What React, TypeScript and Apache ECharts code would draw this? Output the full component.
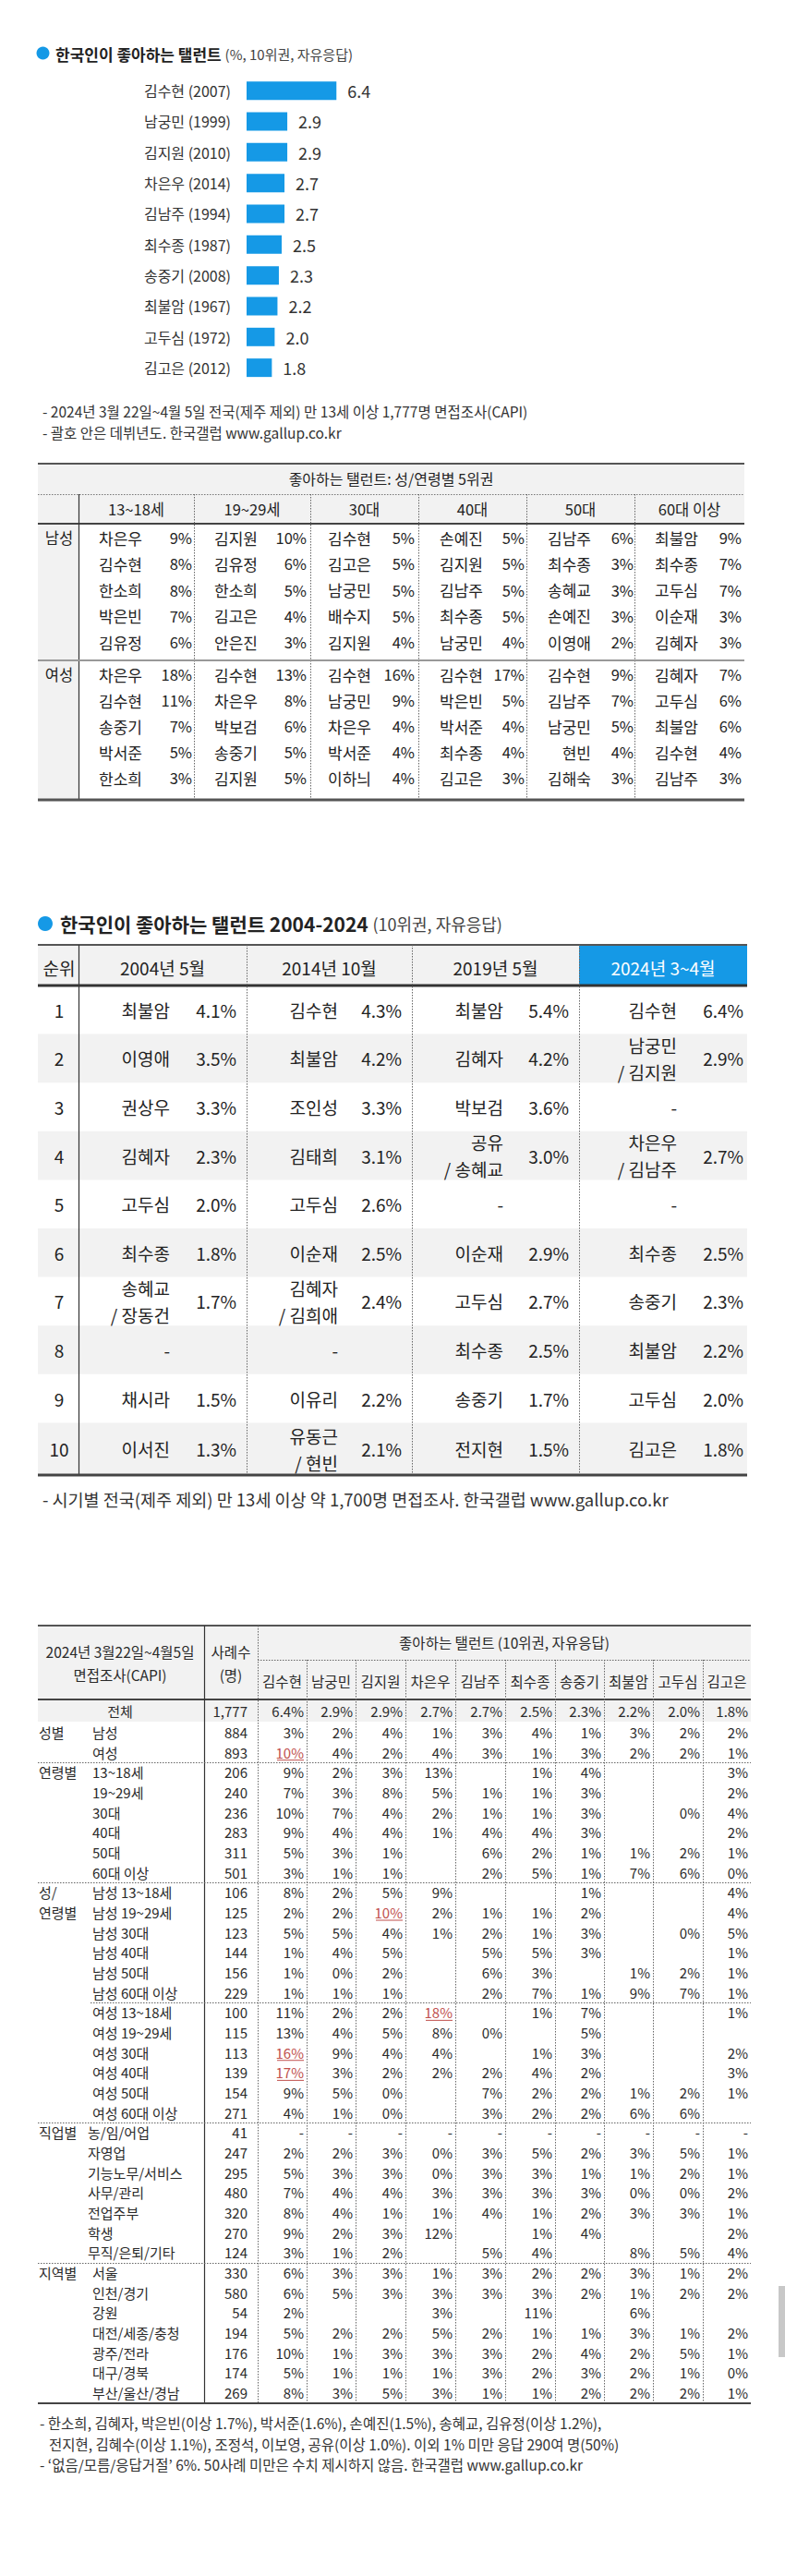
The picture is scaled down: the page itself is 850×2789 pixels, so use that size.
import React, { useEffect, useRef } from 'react';
import * as echarts from 'echarts';

const FONT = '"Noto Sans CJK KR", "Noto Sans", sans-serif';
const BLUE = '#1599e6';
const INK = '#222';
const GRAY_BG = '#f2f2f2';

// ---------- Bar chart data ----------
const barNames = ['김수현 (2007)', '남궁민 (1999)', '김지원 (2010)', '차은우 (2014)', '김남주 (1994)', '최수종 (1987)', '송중기 (2008)', '최불암 (1967)', '고두심 (1972)', '김고은 (2012)'];
const barValues = [6.4, 2.9, 2.9, 2.7, 2.7, 2.5, 2.3, 2.2, 2.0, 1.8];

// ---------- Table 1: gender/age top 5 ----------
const t1Ages = ['13~18세', '19~29세', '30대', '40대', '50대', '60대 이상'];
const t1Male: string[][][] = [
  [['차은우', '9%'], ['김수현', '8%'], ['한소희', '8%'], ['박은빈', '7%'], ['김유정', '6%']],
  [['김지원', '10%'], ['김유정', '6%'], ['한소희', '5%'], ['김고은', '4%'], ['안은진', '3%']],
  [['김수현', '5%'], ['김고은', '5%'], ['남궁민', '5%'], ['배수지', '5%'], ['김지원', '4%']],
  [['손예진', '5%'], ['김지원', '5%'], ['김남주', '5%'], ['최수종', '5%'], ['남궁민', '4%']],
  [['김남주', '6%'], ['최수종', '3%'], ['송혜교', '3%'], ['손예진', '3%'], ['이영애', '2%']],
  [['최불암', '9%'], ['최수종', '7%'], ['고두심', '7%'], ['이순재', '3%'], ['김혜자', '3%']],
];
const t1Female: string[][][] = [
  [['차은우', '18%'], ['김수현', '11%'], ['송중기', '7%'], ['박서준', '5%'], ['한소희', '3%']],
  [['김수현', '13%'], ['차은우', '8%'], ['박보검', '6%'], ['송중기', '5%'], ['김지원', '5%']],
  [['김수현', '16%'], ['남궁민', '9%'], ['차은우', '4%'], ['박서준', '4%'], ['이하늬', '4%']],
  [['김수현', '17%'], ['박은빈', '5%'], ['박서준', '4%'], ['최수종', '4%'], ['김고은', '3%']],
  [['김수현', '9%'], ['김남주', '7%'], ['남궁민', '5%'], ['현빈', '4%'], ['김해숙', '3%']],
  [['김혜자', '7%'], ['고두심', '6%'], ['최불암', '6%'], ['김수현', '4%'], ['김남주', '3%']],
];

// ---------- Table 2: 2004-2024 ----------
const t2Periods = ['2004년 5월', '2014년 10월', '2019년 5월', '2024년 3~4월'];
const t2Ranks = ['1', '2', '3', '4', '5', '6', '7', '8', '9', '10'];
const t2Names = [
  ['최불암', '김수현', '최불암', '김수현'],
  ['이영애', '최불암', '김혜자', '남궁민\n/ 김지원'],
  ['권상우', '조인성', '박보검', '-'],
  ['김혜자', '김태희', '공유\n/ 송혜교', '차은우\n/ 김남주'],
  ['고두심', '고두심', '-', '-'],
  ['최수종', '이순재', '이순재', '최수종'],
  ['송혜교\n/ 장동건', '김혜자\n/ 김희애', '고두심', '송중기'],
  ['-', '-', '최수종', '최불암'],
  ['채시라', '이유리', '송중기', '고두심'],
  ['이서진', '유동근\n/ 현빈', '전지현', '김고은'],
];
const t2Pcts = [
  ['4.1%', '4.3%', '5.4%', '6.4%'],
  ['3.5%', '4.2%', '4.2%', '2.9%'],
  ['3.3%', '3.3%', '3.6%', ''],
  ['2.3%', '3.1%', '3.0%', '2.7%'],
  ['2.0%', '2.6%', '', ''],
  ['1.8%', '2.5%', '2.9%', '2.5%'],
  ['1.7%', '2.4%', '2.7%', '2.3%'],
  ['', '', '2.5%', '2.2%'],
  ['1.5%', '2.2%', '1.7%', '2.0%'],
  ['1.3%', '2.1%', '1.5%', '1.8%'],
];

// ---------- Table 3: detail ----------
const t3Cols = ['김수현', '남궁민', '김지원', '차은우', '김남주', '최수종', '송중기', '최불암', '고두심', '김고은'];
const t3TotalCount = '1,777';
const t3Total = ['6.4%', '2.9%', '2.9%', '2.7%', '2.7%', '2.5%', '2.3%', '2.2%', '2.0%', '1.8%'];
const t3Groups = [
  { row: 0, lines: ['성별'] },
  { row: 2, lines: ['연령별'] },
  { row: 8, lines: ['성/', '연령별'] },
  { row: 20, lines: ['직업별'] },
  { row: 27, lines: ['지역별'] },
];
const t3Labels = ['남성', '여성', '13~18세', '19~29세', '30대', '40대', '50대', '60대 이상',
  '남성 13~18세', '남성 19~29세', '남성 30대', '남성 40대', '남성 50대', '남성 60대 이상',
  '여성 13~18세', '여성 19~29세', '여성 30대', '여성 40대', '여성 50대', '여성 60대 이상',
  '농/임/어업', '자영업', '기능노무/서비스', '사무/관리', '전업주부', '학생', '무직/은퇴/기타',
  '서울', '인천/경기', '강원', '대전/세종/충청', '광주/전라', '대구/경북', '부산/울산/경남'];
const t3Counts = ['884', '893', '206', '240', '236', '283', '311', '501',
  '106', '125', '123', '144', '156', '229',
  '100', '115', '113', '139', '154', '271',
  '41', '247', '295', '480', '320', '270', '124',
  '330', '580', '54', '194', '176', '174', '269'];
const t3Values = [
  ['3%', '2%', '4%', '1%', '3%', '4%', '1%', '3%', '2%', '2%'],
  ['10%', '4%', '2%', '4%', '3%', '1%', '3%', '2%', '2%', '1%'],
  ['9%', '2%', '3%', '13%', '', '1%', '4%', '', '', '3%'],
  ['7%', '3%', '8%', '5%', '1%', '1%', '3%', '', '', '2%'],
  ['10%', '7%', '4%', '2%', '1%', '1%', '3%', '', '0%', '4%'],
  ['9%', '4%', '4%', '1%', '4%', '4%', '3%', '', '', '2%'],
  ['5%', '3%', '1%', '', '6%', '2%', '1%', '1%', '2%', '1%'],
  ['3%', '1%', '1%', '', '2%', '5%', '1%', '7%', '6%', '0%'],
  ['8%', '2%', '5%', '9%', '', '', '1%', '', '', '4%'],
  ['2%', '2%', '10%', '2%', '1%', '1%', '2%', '', '', '4%'],
  ['5%', '5%', '4%', '1%', '2%', '1%', '3%', '', '0%', '5%'],
  ['1%', '4%', '5%', '', '5%', '5%', '3%', '', '', '1%'],
  ['1%', '0%', '2%', '', '6%', '3%', '', '1%', '2%', '1%'],
  ['1%', '1%', '1%', '', '2%', '7%', '1%', '9%', '7%', '1%'],
  ['11%', '2%', '2%', '18%', '', '1%', '7%', '', '', '1%'],
  ['13%', '4%', '5%', '8%', '0%', '', '5%', '', '', ''],
  ['16%', '9%', '4%', '4%', '', '1%', '3%', '', '', '2%'],
  ['17%', '3%', '2%', '2%', '2%', '4%', '2%', '', '', '3%'],
  ['9%', '5%', '0%', '', '7%', '2%', '2%', '1%', '2%', '1%'],
  ['4%', '1%', '0%', '', '3%', '2%', '2%', '6%', '6%', ''],
  ['-', '-', '-', '-', '-', '-', '-', '-', '-', '-'],
  ['2%', '2%', '3%', '0%', '3%', '5%', '2%', '3%', '5%', '1%'],
  ['5%', '3%', '3%', '0%', '3%', '3%', '1%', '1%', '2%', '1%'],
  ['7%', '4%', '4%', '3%', '3%', '3%', '3%', '0%', '0%', '2%'],
  ['8%', '4%', '1%', '1%', '4%', '1%', '2%', '3%', '3%', '1%'],
  ['9%', '2%', '3%', '12%', '', '1%', '4%', '', '', '2%'],
  ['3%', '1%', '2%', '', '5%', '4%', '', '8%', '5%', '4%'],
  ['6%', '3%', '3%', '1%', '3%', '2%', '2%', '3%', '1%', '2%'],
  ['6%', '5%', '3%', '3%', '3%', '3%', '2%', '1%', '2%', '2%'],
  ['2%', '', '', '3%', '', '11%', '', '6%', '', ''],
  ['5%', '2%', '2%', '5%', '2%', '1%', '1%', '3%', '1%', '2%'],
  ['10%', '1%', '3%', '3%', '3%', '2%', '4%', '2%', '5%', '1%'],
  ['5%', '1%', '1%', '1%', '3%', '2%', '3%', '2%', '1%', '0%'],
  ['8%', '3%', '5%', '3%', '1%', '1%', '2%', '2%', '2%', '1%'],
];
const t3Highlights = [[1, 0], [9, 2], [14, 3], [16, 0], [17, 0]];
const t3SeparatorsAfter = [1, 7, 13, 19, 26];

// ---------- drawing helpers ----------
function T(x: number, y: number, text: string, size: number, opts: any = {}) {
  const align = opts.align || 'left';
  const style: any = {
    text,
    fontSize: size,
    fontFamily: FONT,
    fontWeight: opts.weight || 'normal',
    fill: opts.color || INK,
    align,
    verticalAlign: 'middle',
    textAlign: align,
    textVerticalAlign: 'middle',
  };
  if (opts.lineHeight) style.lineHeight = opts.lineHeight;
  if (opts.rich) style.rich = opts.rich;
  return { type: 'text', x, y, z: 10, silent: true, style };
}
function L(x1: number, y1: number, x2: number, y2: number, color: string, w: number, dash?: number[]) {
  const style: any = { stroke: color, lineWidth: w };
  if (dash) style.lineDash = dash;
  return { type: 'line', z: 5, silent: true, shape: { x1, y1, x2, y2 }, style };
}
function R(x: number, y: number, w: number, h: number, fill: string) {
  return { type: 'rect', z: 1, silent: true, shape: { x, y, width: w, height: h }, style: { fill } };
}
const DOT = [1.5, 1.5];

function buildGraphics() {
  const el: any[] = [];

  // ----- title 1 -----
  el.push({ type: 'circle', z: 5, silent: true, shape: { cx: 46.5, cy: 57.5, r: 7 }, style: { fill: BLUE } });
  el.push(T(60, 58, '{b|한국인이 좋아하는 탤런트} {n|(%, 10위권, 자유응답)}', 17, {
    rich: {
      b: { fontSize: 17, fontWeight: 'bold', fill: INK, fontFamily: FONT },
      n: { fontSize: 15, fill: '#444', fontFamily: FONT },
    },
  }));

  // ----- footnotes table 1 -----
  el.push(T(46, 445, '- 2024년 3월 22일~4월 5일 전국(제주 제외) 만 13세 이상 1,777명 면접조사(CAPI)', 15.5, { color: '#333' }));
  el.push(T(46, 468, '- 괄호 안은 데뷔년도. 한국갤럽 www.gallup.co.kr', 15.5, { color: '#333' }));

  // ----- table 1 -----
  const t1L = 41, t1R = 806;
  const t1Div = [210, 336, 453, 570, 687];
  const t1Bounds = [85, 210, 336, 453, 570, 687, 806];
  const t1NameR = [154, 279, 402, 523, 640, 756];
  const t1PctR = [208, 332, 449, 568, 686, 803];
  el.push(R(t1L, 502, t1R - t1L, 65, GRAY_BG));
  el.push(R(t1L, 567, 44, 299, GRAY_BG));
  el.push(L(t1L, 502, t1R, 502, '#555', 2));
  el.push(L(t1L, 535.5, t1R, 535.5, '#777', 1, DOT));
  el.push(L(t1L, 567, t1R, 567, '#444', 2));
  el.push(L(85.5, 535, 85.5, 866, '#333', 1.2));
  t1Div.forEach((x) => el.push(L(x + 0.5, 535, x + 0.5, 866, '#666', 1, DOT)));
  el.push(L(t1L, 715, t1R, 715, '#999', 2));
  el.push(L(t1L, 866, t1R, 866, '#555', 3));
  el.push(T((t1L + t1R) / 2, 518, '좋아하는 탤런트: 성/연령별 5위권', 16, { align: 'center' }));
  t1Ages.forEach((a, i) => el.push(T((t1Bounds[i] + t1Bounds[i + 1]) / 2, 551, a, 16.5, { align: 'center' })));
  el.push(T(64, 582, '남성', 16.5, { align: 'center' }));
  el.push(T(64, 730, '여성', 16.5, { align: 'center' }));
  const t1Draw = (data: string[][][], y0: number, pitch: number) => {
    data.forEach((col, c) => {
      col.forEach((cell, r) => {
        const y = y0 + r * pitch;
        el.push(T(t1NameR[c], y, cell[0], 17, { align: 'right' }));
        el.push(T(t1PctR[c], y, cell[1], 16.5, { align: 'right' }));
      });
    });
  };
  t1Draw(t1Male, 582, 28.3);
  t1Draw(t1Female, 730, 28);

  // ----- title 2 -----
  el.push({ type: 'circle', z: 5, silent: true, shape: { cx: 49, cy: 1000, r: 8 }, style: { fill: BLUE } });
  el.push(T(65, 1000, '{b|한국인이 좋아하는 탤런트 2004-2024} {n|(10위권, 자유응답)}', 21, {
    rich: {
      b: { fontSize: 21, fontWeight: 'bold', fill: INK, fontFamily: FONT },
      n: { fontSize: 18, fill: '#444', fontFamily: FONT },
    },
  }));

  // ----- table 2 -----
  const t2L = 41, t2R = 809;
  const t2Bounds = [85, 267, 446, 627, 809];
  const t2NameR = [184, 366, 545, 733];
  const t2PctR = [256, 435, 616, 805];
  const t2Top = 1023, t2HeadB = 1067, t2Pitch = 52.6, t2Bottom = 1597;
  el.push(R(t2L, t2Top, 627 - t2L, t2HeadB - t2Top, GRAY_BG));
  el.push(R(627, t2Top, t2R - 627, t2HeadB - t2Top, BLUE));
  t2Ranks.forEach((_, r) => {
    if (r % 2 === 1) {
      const yTop = t2HeadB + r * t2Pitch;
      const yB = r === t2Ranks.length - 1 ? t2Bottom : yTop + t2Pitch;
      el.push(R(t2L, yTop, t2R - t2L, yB - yTop, GRAY_BG));
    }
  });
  el.push(L(t2L, t2Top, t2R, t2Top, '#555', 2));
  el.push(L(t2L, t2HeadB, t2R, t2HeadB, '#333', 3));
  el.push(L(85.5, t2Top, 85.5, t2Bottom, '#333', 1.2));
  [267, 446, 627].forEach((x) => el.push(L(x + 0.5, t2Top, x + 0.5, t2Bottom, '#666', 1, DOT)));
  el.push(L(t2L, t2Bottom, t2R, t2Bottom, '#444', 3));
  el.push(T(64, 1047, '순위', 19, { align: 'center' }));
  t2Periods.forEach((p, i) => el.push(T((t2Bounds[i] + t2Bounds[i + 1]) / 2, 1047, p, 19, {
    align: 'center', color: i === 3 ? '#fff' : INK,
  })));
  t2Ranks.forEach((rk, r) => {
    const y = t2HeadB + (r + 0.5) * t2Pitch + (r === 9 ? 2 : 0);
    el.push(T(64, y, rk, 19, { align: 'center' }));
    t2Names[r].forEach((nm, c) => {
      el.push(T(t2NameR[c], y, nm, 19, { align: 'right', lineHeight: 29 }));
      if (t2Pcts[r][c]) el.push(T(t2PctR[c], y, t2Pcts[r][c], 19, { align: 'right' }));
    });
  });
  el.push(T(46, 1623, '- 시기별 전국(제주 제외) 만 13세 이상 약 1,700명 면접조사. 한국갤럽 www.gallup.co.kr', 18.5, { color: '#333' }));

  // ----- table 3 -----
  const t3L = 41, t3R = 813;
  const colB = [279, 332, 385, 439, 493, 547, 601, 654, 707, 761, 813];
  const top3 = 1760, headB = 1840, bottom3 = 2602;
  const y0 = 1875.5, pitch = 21.67;
  const yc = (i: number) => y0 + i * pitch;
  el.push(R(t3L, top3, t3R - t3L, headB - top3, GRAY_BG));
  el.push(R(t3L, headB, t3R - t3L, 24, GRAY_BG));
  el.push(L(t3L, top3, t3R, top3, '#555', 2));
  el.push(L(t3L, headB, t3R, headB, '#444', 2));
  el.push(L(221.5, top3, 221.5, bottom3, '#333', 1.2));
  el.push(L(279.5, top3, 279.5, bottom3, '#666', 1, DOT));
  for (let k = 1; k < colB.length - 1; k++) el.push(L(colB[k] + 0.5, 1797, colB[k] + 0.5, bottom3, '#666', 1, DOT));
  el.push(L(279, 1797.5, t3R, 1797.5, '#666', 1, DOT));
  t3SeparatorsAfter.forEach((r) => {
    const y = Math.round(yc(r) + pitch / 2) + 0.5;
    el.push(L(r === 13 ? 98 : t3L, y, t3R, y, '#666', 1, DOT));
  });
  el.push(L(t3L, bottom3, t3R, bottom3, '#444', 2));

  const H3 = 15.5, B3 = 15;
  const C3 = '#2a2a2a';
  el.push(T(130, 1788, '2024년 3월22일~4월5일', H3, { align: 'center', color: C3 }));
  el.push(T(130, 1813, '면접조사(CAPI)', H3, { align: 'center', color: C3 }));
  el.push(T(250, 1788, '사례수', H3, { align: 'center', color: C3 }));
  el.push(T(250, 1813, '(명)', H3, { align: 'center', color: C3 }));
  el.push(T((279 + t3R) / 2, 1778, '좋아하는 탤런트 (10위권, 자유응답)', H3, { align: 'center', color: C3 }));
  t3Cols.forEach((c, k) => el.push(T((colB[k] + colB[k + 1]) / 2, 1820, c, H3, { align: 'center', color: C3 })));

  el.push(T(130, 1852, '전체', B3, { align: 'center', color: C3 }));
  el.push(T(268, 1852, t3TotalCount, B3, { align: 'right', color: C3 }));
  t3Total.forEach((v, k) => el.push(T(colB[k + 1] - 3, 1852, v, B3, { align: 'right', color: C3 })));

  t3Groups.forEach((g) => g.lines.forEach((ln, j) => el.push(T(42, yc(g.row + j), ln, B3, { color: C3 }))));
  const isHi = (r: number, k: number) => t3Highlights.some((h) => h[0] === r && h[1] === k);
  t3Labels.forEach((lab, r) => {
    const y = yc(r);
    el.push(T(r >= 20 && r <= 26 ? 95 : 100, y, lab, B3, { color: C3 }));
    el.push(T(268, y, t3Counts[r], B3, { align: 'right', color: C3 }));
    t3Values[r].forEach((v, k) => {
      if (!v) return;
      const xr = colB[k + 1] - 3;
      if (isHi(r, k)) {
        el.push(T(xr, y, v, B3, { align: 'right', color: '#c0504d' }));
        el.push(L(xr - 29, y + 8.5, xr, y + 8.5, '#c0504d', 1));
      } else {
        el.push(T(xr, y, v, B3, { align: 'right', color: C3 }));
      }
    });
  });

  // footnotes table 3
  el.push(T(43, 2623, '- 한소희, 김혜자, 박은빈(이상 1.7%), 박서준(1.6%), 손예진(1.5%), 송혜교, 김유정(이상 1.2%),', 15.5, { color: '#333' }));
  el.push(T(53, 2646, '전지현, 김혜수(이상 1.1%), 조정석, 이보영, 공유(이상 1.0%). 이외 1% 미만 응답 290여 명(50%)', 15.5, { color: '#333' }));
  el.push(T(43, 2668, '- ‘없음/모름/응답거절’ 6%. 50사례 미만은 수치 제시하지 않음. 한국갤럽 www.gallup.co.kr', 15.5, { color: '#333' }));

  // scrollbar-like mark at right
  el.push(R(843, 2475, 7, 77, '#c8c8c8'));

  return el;
}

function buildOption(): any {
  return {
    animation: false,
    backgroundColor: '#ffffff',
    grid: { left: 267, top: 81.5, width: 152, height: 333.3 },
    xAxis: { type: 'value', min: 0, max: 10, show: false },
    yAxis: {
      type: 'category',
      data: barNames,
      inverse: true,
      axisLine: { show: false },
      axisTick: { show: false },
      splitLine: { show: false },
      axisLabel: { color: '#333', fontSize: 16, fontFamily: FONT, margin: 17 },
    },
    series: [
      {
        type: 'bar',
        data: barValues,
        barWidth: 20,
        itemStyle: { color: BLUE },
        label: {
          show: true,
          position: 'right',
          distance: 12,
          fontSize: 18,
          fontFamily: FONT,
          color: '#333',
          formatter: (p: any) => Number(p.value).toFixed(1),
        },
      },
    ],
    graphic: { elements: buildGraphics() },
  };
}

export default function App() {
  const ref = useRef<HTMLDivElement>(null);
  useEffect(() => {
    if (!ref.current) return;
    const chart = echarts.init(ref.current, undefined, { renderer: 'svg' });
    chart.setOption(buildOption());
    return () => chart.dispose();
  }, []);
  return (
    <div
      ref={ref}
      style={{ position: 'absolute', left: 0, top: 0, width: 850, height: 2789, background: '#fff' }}
    />
  );
}
